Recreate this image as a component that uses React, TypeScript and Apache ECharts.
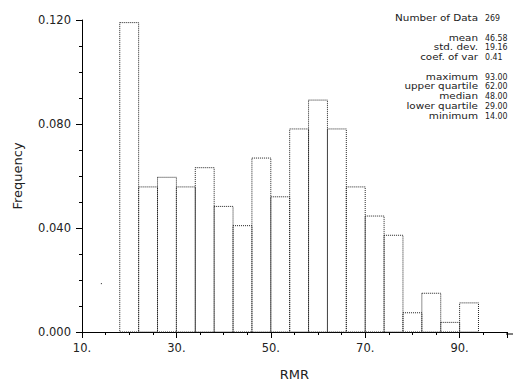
import React, { useEffect, useRef } from "react";
import * as echarts from "echarts";

// Histogram bins (RMR) and relative frequencies
const binStarts = [14, 18, 22, 26, 30, 34, 38, 42, 46, 50, 54, 58, 62, 66, 70, 74, 78, 82, 86, 90];
const binEnds = [18, 22, 26, 30, 34, 38, 42, 46, 50, 54, 58, 62, 66, 70, 74, 78, 82, 86, 90, 94];
const frequencies = [
  0.0186, 0.119, 0.0558, 0.0595, 0.0558, 0.0632, 0.0483, 0.0409, 0.0669, 0.052,
  0.0781, 0.0892, 0.0781, 0.0558, 0.0446, 0.0372, 0.0074, 0.0149, 0.0037, 0.0112,
];

const statLabels = [
  "Number of Data",
  "mean",
  "std. dev.",
  "coef. of var",
  "maximum",
  "upper quartile",
  "median",
  "lower quartile",
  "minimum",
];
const statValues = ["269", "46.58", "19.16", "0.41", "93.00", "62.00", "48.00", "29.00", "14.00"];
const statRowY = [18, 37.5, 47.3, 57.1, 76.5, 86.3, 96.1, 105.9, 115.7];

const xTickFormat = (v: number) => `${v}.`;
const yTickFormat = (v: number) => v.toFixed(3);

export default function App() {
  const ref = useRef<HTMLDivElement>(null);
  useEffect(() => {
    if (!ref.current) return;
    const chart = echarts.init(ref.current, undefined, { renderer: "svg" });
    const font = "DejaVu Sans";
    const data = binStarts.map((s, i) => [s, binEnds[i], frequencies[i]]);
    const graphics: any[] = [];
    statLabels.forEach((lab, i) => {
      graphics.push({
        type: "text",
        x: 478,
        y: statRowY[i],
        scaleX: 1.25,
        style: {
          text: lab,
          fill: "#222",
          font: `8.3px ${font}`,
          align: "right",
          verticalAlign: "middle",
        },
      });
      graphics.push({
        type: "text",
        x: 485,
        y: statRowY[i],
        scaleX: 0.95,
        style: {
          text: statValues[i],
          fill: "#222",
          font: `8.3px ${font}`,
          align: "left",
          verticalAlign: "middle",
        },
      });
    });
    graphics.push({
      type: "line",
      shape: { x1: 506, y1: 334, x2: 513, y2: 334 },
      style: { stroke: "#000", lineWidth: 1 },
    });
    chart.setOption({
      animation: false,
      backgroundColor: "#fff",
      grid: { left: 82, right: 7.2, top: 20, bottom: 52, containLabel: false },
      xAxis: {
        type: "value",
        min: 10,
        max: 100,
        interval: 20,
        name: "RMR",
        nameLocation: "middle",
        nameGap: 36,
        nameTextStyle: { fontFamily: font, fontSize: 13, color: "#222" },
        axisLine: { show: true, lineStyle: { color: "#000", width: 1 } },
        axisTick: { show: true, length: 6, lineStyle: { color: "#000" } },
        minorTick: { show: true, splitNumber: 4, length: 3, lineStyle: { color: "#000" } },
        axisLabel: {
          formatter: xTickFormat,
          fontFamily: font,
          fontSize: 11.5,
          color: "#222",
          margin: 10,
          showMaxLabel: false,
        },
        splitLine: { show: false },
      },
      yAxis: {
        type: "value",
        min: 0,
        max: 0.12,
        interval: 0.04,
        name: "Frequency",
        nameLocation: "middle",
        nameGap: 58,
        nameTextStyle: { fontFamily: font, fontSize: 13, color: "#222" },
        axisLine: { show: true, lineStyle: { color: "#000", width: 1 } },
        axisTick: { show: true, length: 6, lineStyle: { color: "#000" } },
        minorTick: { show: true, splitNumber: 4, length: 3, lineStyle: { color: "#000" } },
        axisLabel: {
          formatter: yTickFormat,
          fontFamily: font,
          fontSize: 11.5,
          color: "#222",
          margin: 11,
        },
        splitLine: { show: false },
      },
      graphic: graphics,
      series: [
        {
          type: "custom",
          data,
          encode: { x: [0, 1], y: 2 },
          renderItem: (params: any, api: any) => {
            const x0 = api.value(0);
            const x1 = api.value(1);
            const f = api.value(2);
            const pTop = api.coord([x0, f]);
            const pBot = api.coord([x1, 0]);
            const sparse = params.dataIndex === 0;
            return {
              type: "rect",
              shape: {
                x: pTop[0],
                y: pTop[1],
                width: pBot[0] - pTop[0],
                height: pBot[1] - pTop[1],
              },
              style: {
                fill: "none",
                stroke: "#222",
                lineWidth: 1,
                lineDash: sparse ? [1, 400] : [1, 1],
              },
            };
          },
        },
      ],
    });
    return () => chart.dispose();
  }, []);
  return (
    <div
      ref={ref}
      style={{ position: "fixed", left: 0, top: 0, width: 514, height: 386 }}
    />
  );
}
